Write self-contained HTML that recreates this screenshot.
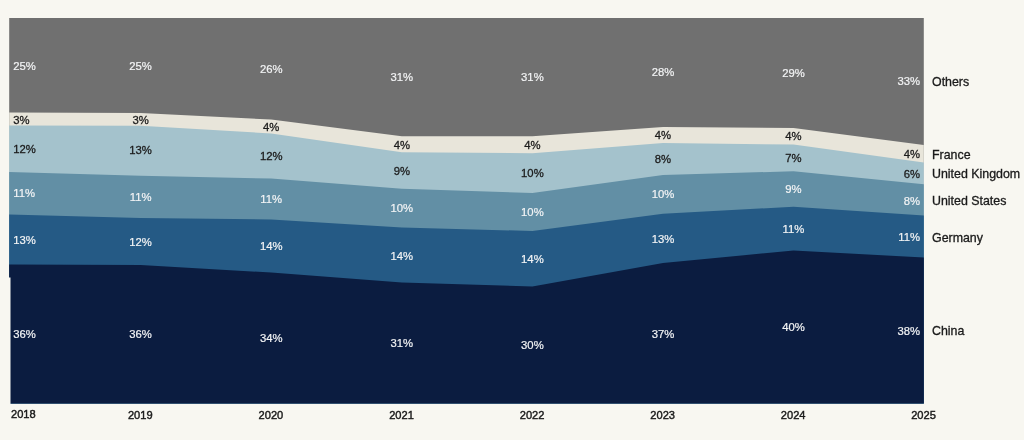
<!DOCTYPE html>
<html><head><meta charset="utf-8"><title>Share by country</title>
<style>
html,body{margin:0;padding:0;background:#f8f7f1;}
body{width:1024px;height:440px;overflow:hidden;}
text{stroke-width:0.3px;}
text.w{stroke-width:0.2px;}
text.yr{stroke-width:0.42px;}
svg{display:block;font-family:"Liberation Sans",Arial,Helvetica,sans-serif;}
</style></head><body>
<svg width="1024" height="440" viewBox="0 0 1024 440">
<rect width="1024" height="440" fill="#f8f7f1"/>
<path d="M9.20,18.00 L140.60,18.00 L271.20,18.00 L401.80,18.00 L532.40,18.00 L663.00,18.00 L793.50,18.00 L923.80,18.00 L923.80,403.50 L793.50,403.50 L663.00,403.50 L532.40,403.50 L401.80,403.50 L271.20,403.50 L140.60,403.50 L9.20,403.50Z" fill="#707070"/>
<path d="M9.20,112.50 L140.60,113.00 L271.20,119.50 L401.80,136.25 L532.40,136.25 L663.00,127.00 L793.50,128.00 L923.80,145.00 L923.80,403.50 L793.50,403.50 L663.00,403.50 L532.40,403.50 L401.80,403.50 L271.20,403.50 L140.60,403.50 L9.20,403.50Z" fill="#e8e5da"/>
<path d="M9.20,125.50 L140.60,125.75 L271.20,133.50 L401.80,152.25 L532.40,153.25 L663.00,143.00 L793.50,144.50 L923.80,162.50 L923.80,403.50 L793.50,403.50 L663.00,403.50 L532.40,403.50 L401.80,403.50 L271.20,403.50 L140.60,403.50 L9.20,403.50Z" fill="#a4c2cc"/>
<path d="M9.20,172.00 L140.60,175.75 L271.20,178.50 L401.80,188.75 L532.40,193.00 L663.00,175.00 L793.50,171.25 L923.80,184.20 L923.80,403.50 L793.50,403.50 L663.00,403.50 L532.40,403.50 L401.80,403.50 L271.20,403.50 L140.60,403.50 L9.20,403.50Z" fill="#628fa5"/>
<path d="M9.20,214.50 L140.60,218.00 L271.20,219.50 L401.80,227.50 L532.40,231.00 L663.00,213.75 L793.50,206.75 L923.80,215.50 L923.80,403.50 L793.50,403.50 L663.00,403.50 L532.40,403.50 L401.80,403.50 L271.20,403.50 L140.60,403.50 L9.20,403.50Z" fill="#255a85"/>
<path d="M9.20,264.50 L140.60,265.00 L271.20,272.50 L401.80,282.50 L532.40,286.50 L663.00,263.00 L793.50,250.50 L923.80,257.50 L923.80,403.50 L793.50,403.50 L663.00,403.50 L532.40,403.50 L401.80,403.50 L271.20,403.50 L140.60,403.50 L9.20,403.50Z" fill="#0b1c40"/>
<rect x="8" y="277.5" width="2.5" height="127" fill="#f8f7f1"/>
<text x="13.2" y="70.07" text-anchor="start" fill="#f3f4f5" stroke="#f3f4f5" class="w" font-size="11.3">25%</text>
<text x="13.2" y="123.57" text-anchor="start" fill="#1c1c1c" stroke="#1c1c1c" class="d" font-size="11.3">3%</text>
<text x="13.2" y="153.07" text-anchor="start" fill="#1c1c1c" stroke="#1c1c1c" class="d" font-size="11.3">12%</text>
<text x="13.2" y="197.47" text-anchor="start" fill="#f3f4f5" stroke="#f3f4f5" class="w" font-size="11.3">11%</text>
<text x="13.2" y="243.87" text-anchor="start" fill="#f3f4f5" stroke="#f3f4f5" class="w" font-size="11.3">13%</text>
<text x="13.2" y="337.77" text-anchor="start" fill="#f3f4f5" stroke="#f3f4f5" class="w" font-size="11.3">36%</text>
<text x="140.6" y="70.07" text-anchor="middle" fill="#f3f4f5" stroke="#f3f4f5" class="w" font-size="11.3">25%</text>
<text x="140.6" y="123.57" text-anchor="middle" fill="#1c1c1c" stroke="#1c1c1c" class="d" font-size="11.3">3%</text>
<text x="140.6" y="154.37" text-anchor="middle" fill="#1c1c1c" stroke="#1c1c1c" class="d" font-size="11.3">13%</text>
<text x="140.6" y="201.07" text-anchor="middle" fill="#f3f4f5" stroke="#f3f4f5" class="w" font-size="11.3">11%</text>
<text x="140.6" y="245.57" text-anchor="middle" fill="#f3f4f5" stroke="#f3f4f5" class="w" font-size="11.3">12%</text>
<text x="140.6" y="337.77" text-anchor="middle" fill="#f3f4f5" stroke="#f3f4f5" class="w" font-size="11.3">36%</text>
<text x="271.2" y="72.57" text-anchor="middle" fill="#f3f4f5" stroke="#f3f4f5" class="w" font-size="11.3">26%</text>
<text x="271.2" y="130.57" text-anchor="middle" fill="#1c1c1c" stroke="#1c1c1c" class="d" font-size="11.3">4%</text>
<text x="271.2" y="160.07" text-anchor="middle" fill="#1c1c1c" stroke="#1c1c1c" class="d" font-size="11.3">12%</text>
<text x="271.2" y="203.07" text-anchor="middle" fill="#f3f4f5" stroke="#f3f4f5" class="w" font-size="11.3">11%</text>
<text x="271.2" y="250.07" text-anchor="middle" fill="#f3f4f5" stroke="#f3f4f5" class="w" font-size="11.3">14%</text>
<text x="271.2" y="341.77" text-anchor="middle" fill="#f3f4f5" stroke="#f3f4f5" class="w" font-size="11.3">34%</text>
<text x="401.8" y="81.07" text-anchor="middle" fill="#f3f4f5" stroke="#f3f4f5" class="w" font-size="11.3">31%</text>
<text x="401.8" y="149.07" text-anchor="middle" fill="#1c1c1c" stroke="#1c1c1c" class="d" font-size="11.3">4%</text>
<text x="401.8" y="175.07" text-anchor="middle" fill="#1c1c1c" stroke="#1c1c1c" class="d" font-size="11.3">9%</text>
<text x="401.8" y="212.07" text-anchor="middle" fill="#f3f4f5" stroke="#f3f4f5" class="w" font-size="11.3">10%</text>
<text x="401.8" y="259.57" text-anchor="middle" fill="#f3f4f5" stroke="#f3f4f5" class="w" font-size="11.3">14%</text>
<text x="401.8" y="347.07" text-anchor="middle" fill="#f3f4f5" stroke="#f3f4f5" class="w" font-size="11.3">31%</text>
<text x="532.4" y="80.77" text-anchor="middle" fill="#f3f4f5" stroke="#f3f4f5" class="w" font-size="11.3">31%</text>
<text x="532.4" y="148.77" text-anchor="middle" fill="#1c1c1c" stroke="#1c1c1c" class="d" font-size="11.3">4%</text>
<text x="532.4" y="177.07" text-anchor="middle" fill="#1c1c1c" stroke="#1c1c1c" class="d" font-size="11.3">10%</text>
<text x="532.4" y="216.07" text-anchor="middle" fill="#f3f4f5" stroke="#f3f4f5" class="w" font-size="11.3">10%</text>
<text x="532.4" y="262.57" text-anchor="middle" fill="#f3f4f5" stroke="#f3f4f5" class="w" font-size="11.3">14%</text>
<text x="532.4" y="349.07" text-anchor="middle" fill="#f3f4f5" stroke="#f3f4f5" class="w" font-size="11.3">30%</text>
<text x="663.0" y="76.07" text-anchor="middle" fill="#f3f4f5" stroke="#f3f4f5" class="w" font-size="11.3">28%</text>
<text x="663.0" y="139.07" text-anchor="middle" fill="#1c1c1c" stroke="#1c1c1c" class="d" font-size="11.3">4%</text>
<text x="663.0" y="162.67" text-anchor="middle" fill="#1c1c1c" stroke="#1c1c1c" class="d" font-size="11.3">8%</text>
<text x="663.0" y="198.07" text-anchor="middle" fill="#f3f4f5" stroke="#f3f4f5" class="w" font-size="11.3">10%</text>
<text x="663.0" y="242.57" text-anchor="middle" fill="#f3f4f5" stroke="#f3f4f5" class="w" font-size="11.3">13%</text>
<text x="663.0" y="337.57" text-anchor="middle" fill="#f3f4f5" stroke="#f3f4f5" class="w" font-size="11.3">37%</text>
<text x="793.5" y="77.07" text-anchor="middle" fill="#f3f4f5" stroke="#f3f4f5" class="w" font-size="11.3">29%</text>
<text x="793.5" y="139.67" text-anchor="middle" fill="#1c1c1c" stroke="#1c1c1c" class="d" font-size="11.3">4%</text>
<text x="793.5" y="161.57" text-anchor="middle" fill="#1c1c1c" stroke="#1c1c1c" class="d" font-size="11.3">7%</text>
<text x="793.5" y="193.07" text-anchor="middle" fill="#f3f4f5" stroke="#f3f4f5" class="w" font-size="11.3">9%</text>
<text x="793.5" y="232.57" text-anchor="middle" fill="#f3f4f5" stroke="#f3f4f5" class="w" font-size="11.3">11%</text>
<text x="793.5" y="331.07" text-anchor="middle" fill="#f3f4f5" stroke="#f3f4f5" class="w" font-size="11.3">40%</text>
<text x="920" y="85.07" text-anchor="end" fill="#f3f4f5" stroke="#f3f4f5" class="w" font-size="11.3">33%</text>
<text x="920" y="157.57" text-anchor="end" fill="#1c1c1c" stroke="#1c1c1c" class="d" font-size="11.3">4%</text>
<text x="920" y="177.57" text-anchor="end" fill="#1c1c1c" stroke="#1c1c1c" class="d" font-size="11.3">6%</text>
<text x="920" y="204.57" text-anchor="end" fill="#f3f4f5" stroke="#f3f4f5" class="w" font-size="11.3">8%</text>
<text x="920" y="241.07" text-anchor="end" fill="#f3f4f5" stroke="#f3f4f5" class="w" font-size="11.3">11%</text>
<text x="920" y="334.57" text-anchor="end" fill="#f3f4f5" stroke="#f3f4f5" class="w" font-size="11.3">38%</text>
<text x="932" y="85.86" fill="#1a1a1a" stroke="#1a1a1a" font-size="12.4">Others</text>
<text x="932" y="159.46" fill="#1a1a1a" stroke="#1a1a1a" font-size="12.4">France</text>
<text x="932" y="178.46" fill="#1a1a1a" stroke="#1a1a1a" font-size="12.4">United Kingdom</text>
<text x="932" y="205.46" fill="#1a1a1a" stroke="#1a1a1a" font-size="12.4">United States</text>
<text x="932" y="241.86" fill="#1a1a1a" stroke="#1a1a1a" font-size="12.4">Germany</text>
<text x="932" y="335.36" fill="#1a1a1a" stroke="#1a1a1a" font-size="12.4">China</text>
<text x="11" y="417.85" fill="#1a1a1a" stroke="#1a1a1a" font-size="11.1" class="yr">2018</text>
<text x="140.29999999999998" y="418.55" text-anchor="middle" fill="#1a1a1a" stroke="#1a1a1a" font-size="11.1" class="yr">2019</text>
<text x="270.9" y="418.55" text-anchor="middle" fill="#1a1a1a" stroke="#1a1a1a" font-size="11.1" class="yr">2020</text>
<text x="401.5" y="418.55" text-anchor="middle" fill="#1a1a1a" stroke="#1a1a1a" font-size="11.1" class="yr">2021</text>
<text x="532.1" y="418.55" text-anchor="middle" fill="#1a1a1a" stroke="#1a1a1a" font-size="11.1" class="yr">2022</text>
<text x="662.7" y="418.55" text-anchor="middle" fill="#1a1a1a" stroke="#1a1a1a" font-size="11.1" class="yr">2023</text>
<text x="793.2" y="418.55" text-anchor="middle" fill="#1a1a1a" stroke="#1a1a1a" font-size="11.1" class="yr">2024</text>
<text x="923.5" y="418.55" text-anchor="middle" fill="#1a1a1a" stroke="#1a1a1a" font-size="11.1" class="yr">2025</text>
</svg>
</body></html>
